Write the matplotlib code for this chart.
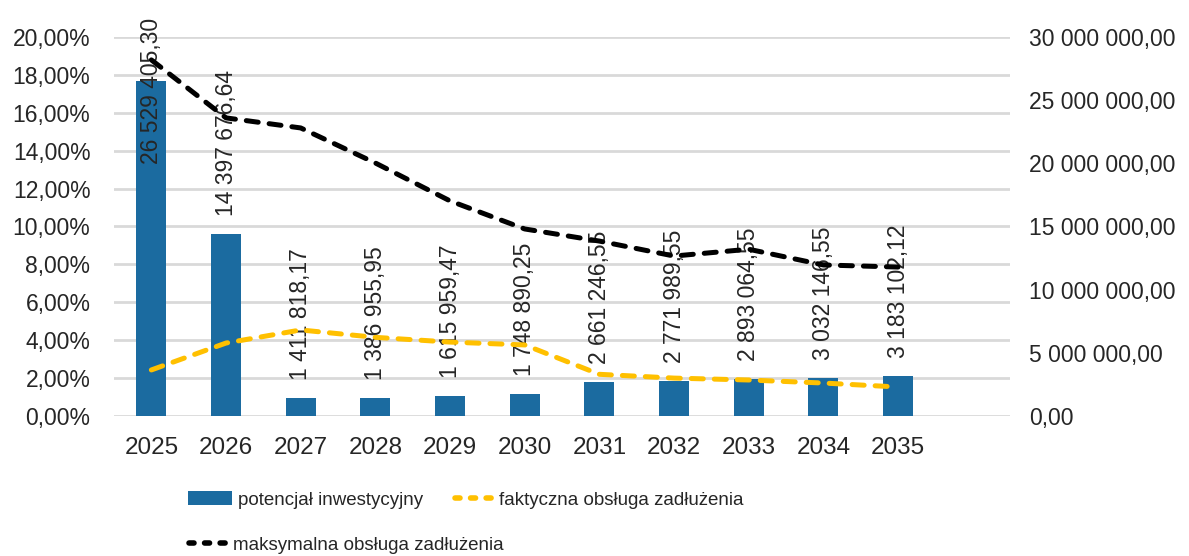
import numpy as np
import matplotlib.pyplot as plt
from matplotlib.ticker import FuncFormatter, MultipleLocator
from matplotlib.patches import Patch
from matplotlib.lines import Line2D

# Data
years = ['2025', '2026', '2027', '2028', '2029', '2030',
         '2031', '2032', '2033', '2034', '2035']
potencjal = [26529405.30, 14397676.64, 1411818.17, 1386955.95, 1615959.47,
             1748890.25, 2661246.55, 2771989.55, 2893064.55, 3032146.55,
             3183102.12]
faktyczna = [2.43, 3.85, 4.54, 4.15, 3.90, 3.75, 2.20, 2.00, 1.90, 1.74, 1.53]
maksymalna = [18.79, 15.73, 15.20, 13.35, 11.35, 9.87, 9.23, 8.44, 8.80, 7.97, 7.86]

labels = ['potencjał inwestycyjny', 'faktyczna obsługa zadłużenia',
          'maksymalna obsługa zadłużenia']

plt.rcParams.update({'font.family': ['Liberation Sans', 'DejaVu Sans'],
                     'font.size': 16.5, 'text.color': '#262626',
                     'axes.labelcolor': '#262626'})

BLUE = '#1b6ba0'
YELLOW = '#ffc000'
GRID = '#d9d9d9'
TXT = '#262626'


def pln(v, pos=None):
    s = f'{v:,.2f}'
    return s.replace(',', ' ').replace('.', ',')


def pct(v, pos=None):
    return f'{v:.2f}%'.replace('.', ',')


fig = plt.figure(figsize=(11.89, 5.56), dpi=100)
ax = fig.add_axes([0.0959, 0.2518, 0.7536, 0.6817])
ax2 = ax.twinx()

x = np.arange(len(years))

# Bars on the secondary (right) axis
ax2.bar(x, potencjal, width=0.4, color=BLUE, zorder=2)
ax2.set_ylim(0, 30e6)
ax2.yaxis.set_major_locator(MultipleLocator(5e6))
ax2.yaxis.set_major_formatter(FuncFormatter(pln))

# Lines on the primary (left) axis, drawn on top of the bars
ax.set_zorder(ax2.get_zorder() + 1)
ax.patch.set_visible(False)
ls_kw = dict(linewidth=3.6, dash_capstyle='round', zorder=4)
ax.plot(x, faktyczna, color=YELLOW, dashes=(2.4, 2.2), **ls_kw)
ax.plot(x, maksymalna, color='black', dashes=(2.4, 2.2), **ls_kw)
ax.set_ylim(0, 20)
ax.yaxis.set_major_locator(MultipleLocator(2))
ax.yaxis.set_major_formatter(FuncFormatter(pct))
ax.set_xlim(-0.5, len(years) + 0.5)
ax.set_xticks(x)
ax.set_xticklabels(years, fontsize=17.5)

# Grid (drawn on the bar axis so it stays behind everything)
for yv in np.arange(0, 30e6 + 1, 3e6):
    ax2.axhline(yv, color=GRID, linewidth=2, zorder=0)

for a in (ax, ax2):
    for sp in a.spines.values():
        sp.set_visible(False)
    a.tick_params(length=0, colors=TXT)
ax.tick_params(axis='y', pad=17)
ax.tick_params(axis='x', pad=15)
ax2.tick_params(axis='y', pad=14)

# Bar value labels, rotated
for xi, v in zip(x, potencjal):
    if v + 11e6 > 30e6:
        ax2.annotate(pln(v), xy=(xi, 30e6), xytext=(0, 14), textcoords='offset points',
                     rotation=90, ha='center', va='top', fontsize=16.5,
                     color=TXT, zorder=5, annotation_clip=False)
    else:
        ax2.annotate(pln(v), xy=(xi, v), xytext=(0, 13), textcoords='offset points',
                     rotation=90, ha='center', va='bottom', fontsize=16.5,
                     color=TXT, zorder=5)

# Legend laid out like the original grid
h_bar = Patch(facecolor=BLUE)
h_yel = Line2D([], [], color=YELLOW, dashes=(0.9, 1.9), linewidth=4, dash_capstyle='round')
h_blk = Line2D([], [], color='black', dashes=(0.9, 1.9), linewidth=4, dash_capstyle='round')
leg_kw = dict(frameon=False, borderpad=0, borderaxespad=0, handletextpad=0.33,
              loc='center left', fontsize=13.5)
fig.legend([h_bar], [labels[0]], bbox_to_anchor=(188 / 1189, 1 - 500 / 556),
           handlelength=2.35, handleheight=0.75, **leg_kw)
fig.legend([h_yel], [labels[1]], bbox_to_anchor=(455 / 1189, 1 - 500 / 556),
           handlelength=2.0, **leg_kw)
fig.legend([h_blk], [labels[2]], bbox_to_anchor=(189 / 1189, 1 - 545 / 556),
           handlelength=2.0, **leg_kw)

plt.savefig('out.png', dpi=100)
